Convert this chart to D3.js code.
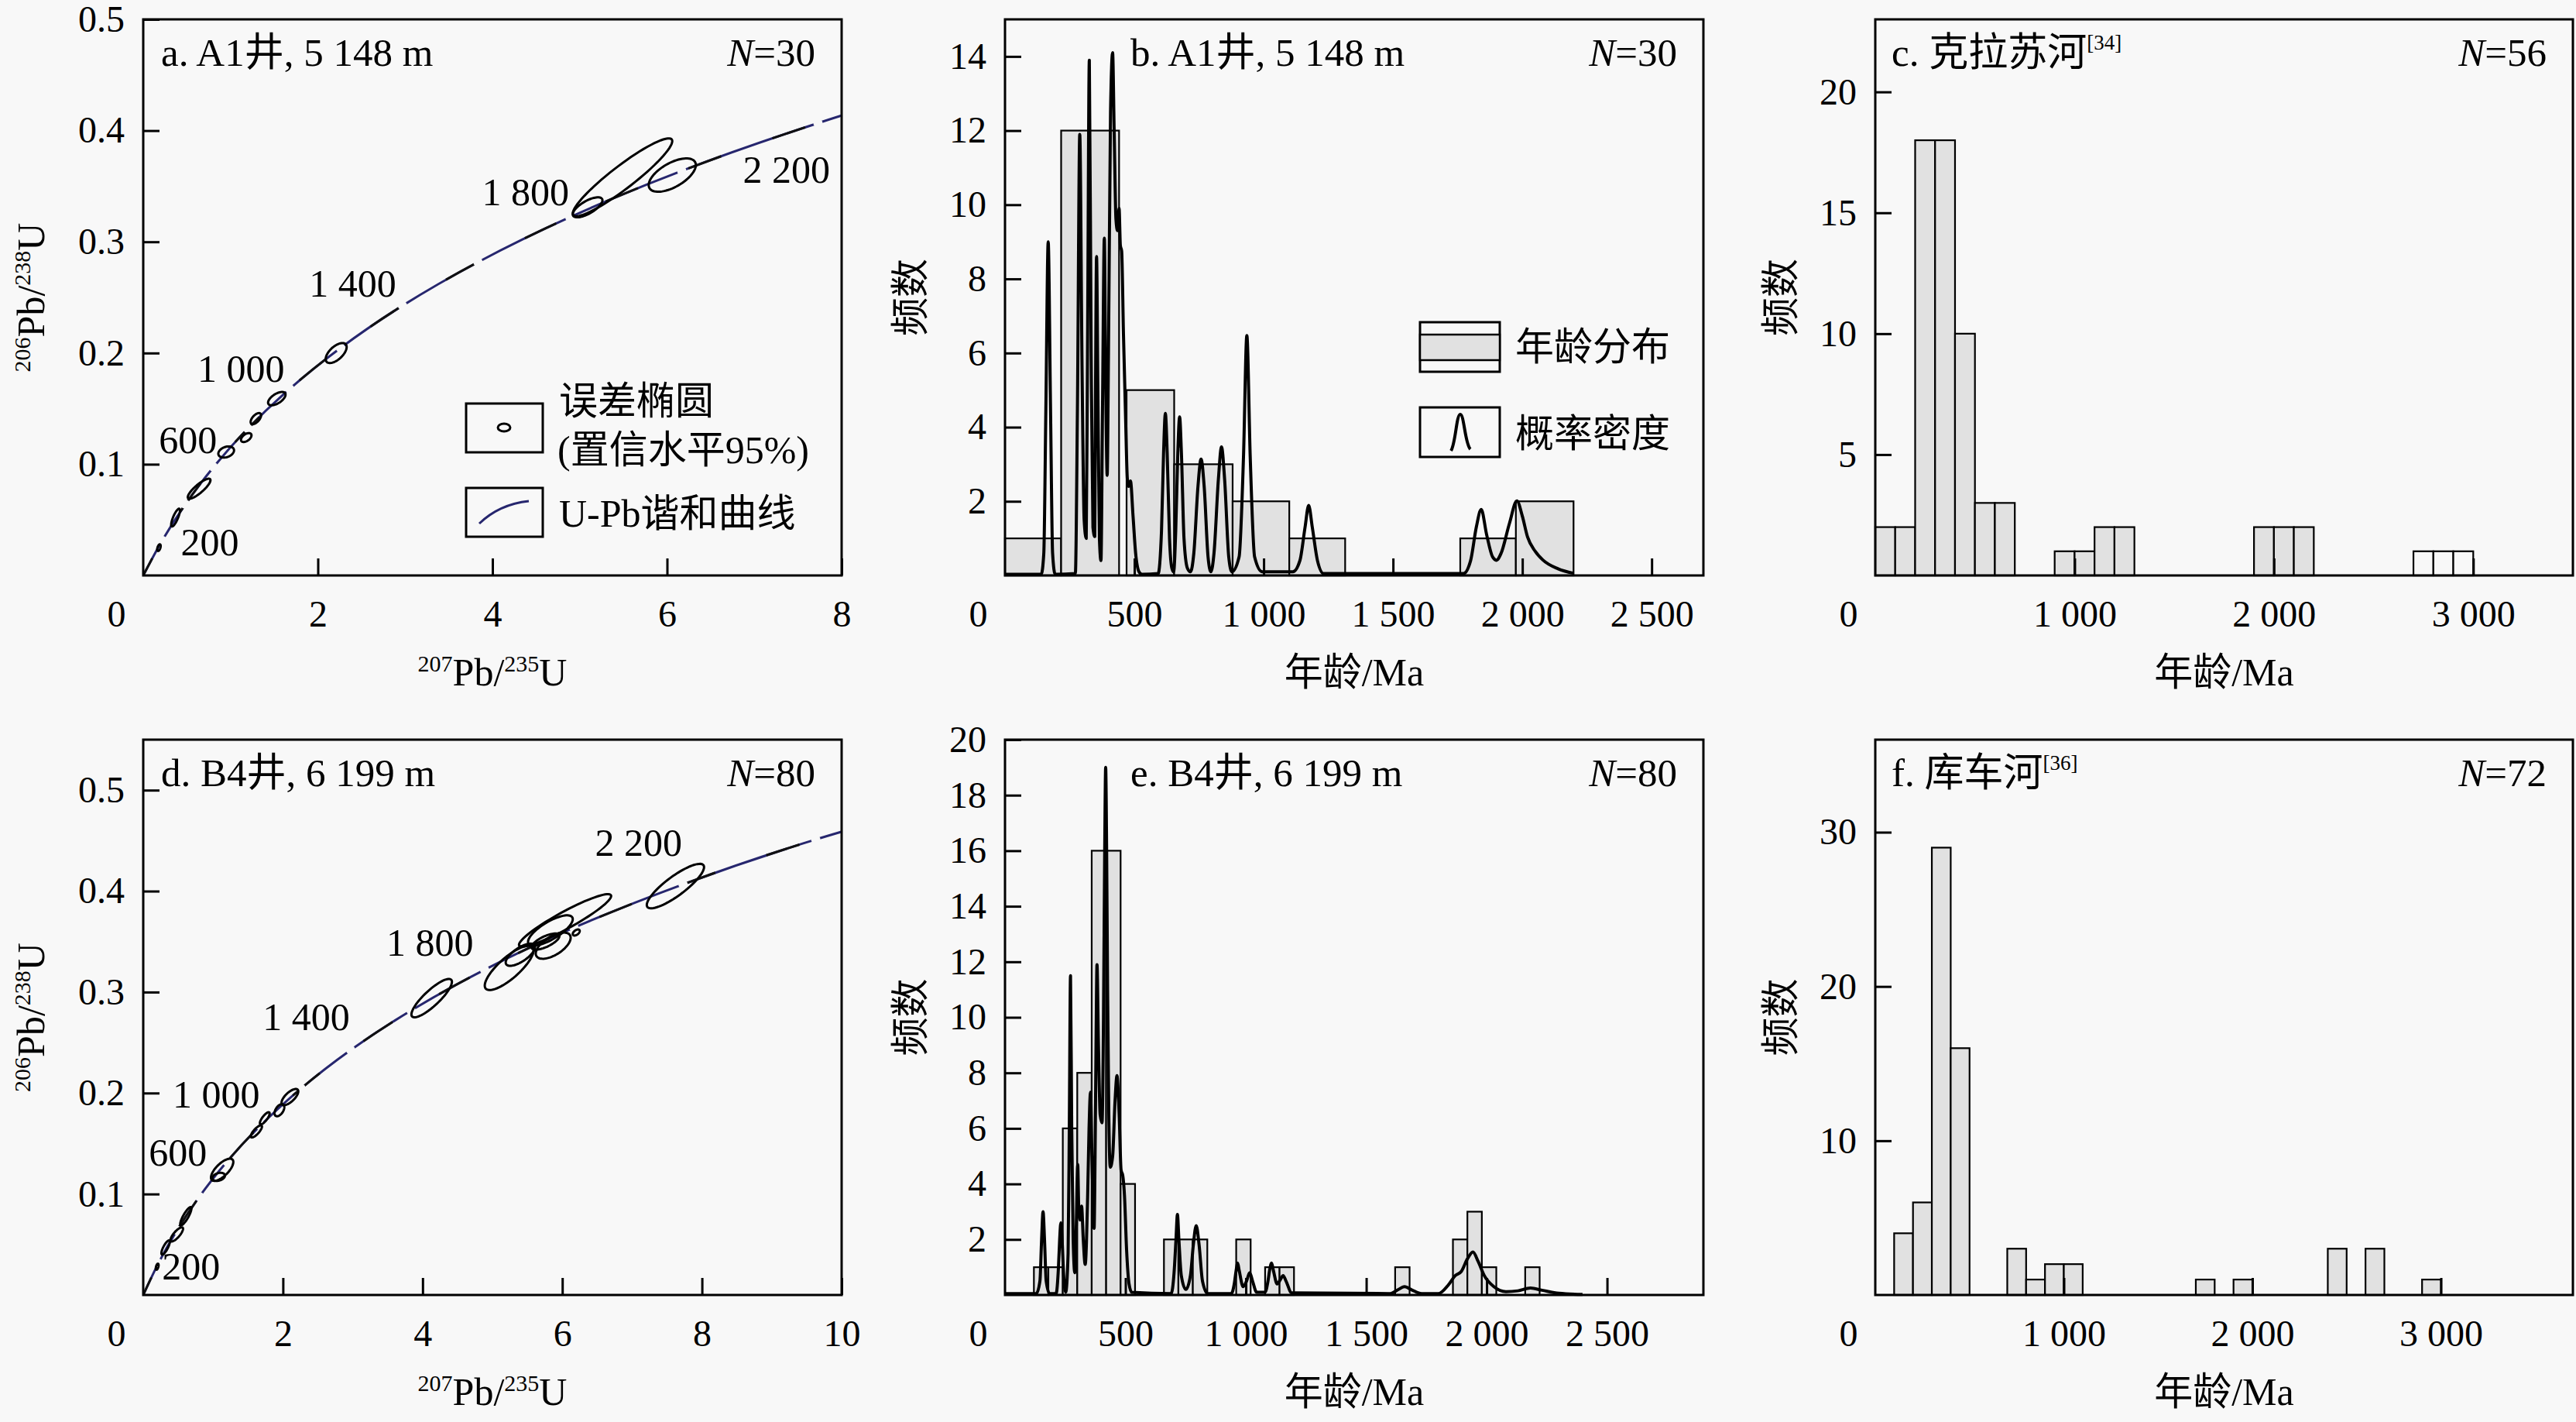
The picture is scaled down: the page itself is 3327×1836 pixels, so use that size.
<!DOCTYPE html>
<meta charset="utf-8">
<style>
  body { margin: 0; background: #f8f8f8; }
  svg { display: block; font-family: "Liberation Serif", "Times New Roman", "Noto Sans CJK SC", serif; }
  .frame { fill: none; stroke: #000; stroke-width: 3; }
  .bar { stroke: #000; stroke-width: 2.2; }
  .pdp { fill: none; stroke: #000; stroke-width: 4; stroke-linejoin: round; }
  .ell { fill: none; stroke: #000; stroke-width: 3; }
  .conc { fill: none; stroke: #26266e; stroke-width: 3; }
</style>
<svg width="3327" height="1836"></svg>
<script src="https://d3js.org/d3.v7.min.js"></script>
<script>

// concordia nodes every 200 Ma
var concAge = [0, 200, 400, 600, 800, 1000, 1200, 1400, 1600, 1800, 2000, 2200, 2400, 2600];
var conc207 = [0, 0.2177, 0.4828, 0.8056, 1.1987, 1.6774, 2.2603, 2.9701, 3.8344, 4.8869, 6.1685, 7.7291, 9.6296, 11.9437];
var conc206 = [0, 0.0315, 0.0640, 0.0975, 0.1321, 0.1678, 0.2046, 0.2426, 0.2817, 0.3221, 0.3638, 0.4067, 0.4511, 0.4968];

// error ellipses: [207/235, 206/238, sx, sy, rho]
var ellA = [
  [5.49, 0.358, 0.57, 0.035, 0.93], [6.06, 0.360, 0.27, 0.015, 0.6], [5.09, 0.331, 0.17, 0.009, 0.7],
  [2.21, 0.200, 0.12, 0.009, 0.6], [1.53, 0.159, 0.10, 0.006, 0.6], [1.29, 0.141, 0.06, 0.005, 0.6],
  [1.18, 0.124, 0.06, 0.004, 0.5], [0.95, 0.111, 0.09, 0.005, 0.3], [0.64, 0.078, 0.13, 0.009, 0.85],
  [0.37, 0.052, 0.05, 0.008, 0.8], [0.18, 0.025, 0.02, 0.003, 0.5]
];
var ellD = [
  [7.62, 0.405, 0.41, 0.022, 0.85], [6.04, 0.371, 0.66, 0.026, 0.93], [5.24, 0.324, 0.35, 0.022, 0.8],
  [5.40, 0.337, 0.21, 0.011, 0.7], [5.83, 0.361, 0.32, 0.015, 0.75], [5.87, 0.346, 0.25, 0.013, 0.6],
  [5.76, 0.350, 0.20, 0.008, 0.7], [6.20, 0.359, 0.05, 0.003, 0.5], [4.13, 0.294, 0.29, 0.019, 0.85],
  [2.10, 0.196, 0.12, 0.008, 0.7], [1.95, 0.183, 0.07, 0.006, 0.5], [1.74, 0.175, 0.07, 0.006, 0.8],
  [1.62, 0.162, 0.08, 0.006, 0.8], [1.13, 0.124, 0.16, 0.011, 0.7], [1.08, 0.117, 0.09, 0.004, 0.3],
  [0.61, 0.078, 0.08, 0.009, 0.85], [0.48, 0.060, 0.09, 0.007, 0.8], [0.32, 0.047, 0.06, 0.007, 0.8],
  [0.20, 0.028, 0.02, 0.003, 0.5]
];

// concordia age labels: [text, x, y]
var labA = [['200', 0.43, 0.018], ['600', 0.18, 0.11], ['1 000', 0.62, 0.174], ['1 400', 1.9, 0.251], ['1 800', 3.88, 0.333], ['2 200', 6.87, 0.353]];
var labD = [['200', 0.27, 0.0155], ['600', 0.08, 0.128], ['1 000', 0.42, 0.186], ['1 400', 1.71, 0.262], ['1 800', 3.48, 0.336], ['2 200', 6.47, 0.435]];

// histograms
var bLo = [0, 217, 470, 654, 880, 1099, 1760, 1975];
var bHi = [217, 441, 654, 880, 1099, 1315, 1975, 2198];
var bCount = [1, 12, 5, 3, 2, 1, 1, 2];

var eLo = [120, 180, 240, 300, 360, 420, 480, 660, 720, 780, 960, 1080, 1140, 1620, 1860, 1920, 1980, 2160];
var eCount = [1, 1, 6, 8, 16, 16, 4, 2, 2, 2, 2, 1, 1, 1, 2, 3, 1, 1];

var cLo = [0, 100, 200, 300, 400, 500, 600, 900, 1000, 1100, 1200, 1900, 2000, 2100, 2700, 2800, 2900];
var cCount = [2, 2, 18, 18, 10, 3, 3, 1, 1, 2, 2, 2, 2, 2, 1, 1, 1];

var fLo = [100, 200, 300, 400, 700, 800, 900, 1000, 1700, 1900, 2400, 2600, 2900];
var fCount = [4, 6, 29, 16, 3, 1, 2, 2, 1, 1, 3, 3, 1];

// probability density curves [age, value]
var pdpB = [
  [0, 0.03], [140, 0.03], [150, 0.6], [158, 4.5], [167, 9.0], [176, 4.5], [184, 0.6], [194, 0.03],
  [272, 0.05], [280, 4.5], [289, 11.9], [298, 5.5], [306, 1.5], [314, 1.0],
  [319, 6], [326, 13.9], [333, 6], [340, 1.3], [347, 1.05],
  [350, 5], [354, 8.6], [359, 5], [365, 1], [371, 0.4],
  [377, 4.5], [384, 9.1], [389, 5.5], [395, 2.7],
  [400, 6], [408, 12.5], [416, 14.1], [422, 12], [429, 9.6], [435, 9.3], [441, 9.9], [446, 8.9], [451, 8.75],
  [458, 6.5], [466, 4.3], [473, 2.6], [478, 2.4], [485, 2.55], [495, 1.6], [505, 0.6], [518, 0.1], [530, 0.03],
  [592, 0.05], [605, 1.2], [613, 3.3], [620, 4.37], [627, 3.3], [636, 1.0], [645, 0.2], [652, 0.1],
  [660, 1.2], [668, 3.3], [675, 4.28], [682, 3.3], [692, 1.0], [705, 0.2], [717, 0.1],
  [730, 0.6], [746, 2.4], [758, 3.14], [770, 2.4], [785, 0.5], [796, 0.1],
  [808, 0.6], [825, 2.6], [837, 3.47], [849, 2.6], [865, 0.5], [877, 0.1],
  [905, 0.5], [922, 3.2], [935, 6.47], [948, 3.2], [965, 0.5], [994, 0.1],
  [1113, 0.1], [1140, 0.4], [1160, 1.3], [1174, 1.89], [1188, 1.3], [1208, 0.4], [1232, 0.05],
  [1772, 0.05], [1800, 0.4], [1822, 1.3], [1841, 1.78], [1862, 1.1], [1885, 0.5], [1900, 0.41], [1918, 0.6],
  [1950, 1.4], [1979, 2.01], [2000, 1.6], [2020, 1.04], [2050, 0.65], [2079, 0.42], [2138, 0.18], [2197, 0.06]
];
var pdpE = [
  [0, 0.05], [130, 0.05], [145, 0.5], [152, 2], [158, 3.0], [164, 2], [171, 0.5], [185, 0.05],
  [212, 0.05], [222, 1], [227, 2], [232, 2.6], [237, 2], [243, 0.8], [252, 0.1],
  [262, 1.5], [267, 6], [272, 11.5], [277, 6], [283, 2], [290, 0.8],
  [296, 2.5], [302, 4.7], [306, 3.2], [312, 2.7], [318, 3.2], [325, 2], [333, 1.1],
  [343, 3.5], [349, 6], [355, 7.3], [361, 5], [370, 2.4],
  [374, 5], [378, 9], [382, 11.9], [388, 9], [395, 6.5], [403, 6.2],
  [409, 10], [414, 16], [418, 19.0], [422, 16], [426, 11], [431, 6.5], [437, 4.6],
  [447, 5], [457, 7], [465, 7.9], [474, 6.5], [482, 4.5], [489, 4.3], [496, 3.6], [505, 1.6], [515, 0.4], [526, 0.1],
  [690, 0.05], [702, 0.8], [710, 2], [716, 2.9], [722, 2], [732, 0.7], [751, 0.2],
  [770, 0.7], [782, 1.8], [794, 2.5], [806, 1.8], [820, 0.5], [842, 0.05],
  [940, 0.05], [952, 0.4], [960, 0.9], [966, 1.15], [972, 0.9], [989, 0.3], [1003, 0.5], [1016, 0.8], [1028, 0.5], [1045, 0.1],
  [1080, 0.1], [1092, 0.5], [1100, 0.95], [1107, 1.15], [1114, 0.9], [1130, 0.4], [1143, 0.55], [1155, 0.7], [1167, 0.5], [1190, 0.08],
  [1600, 0.05], [1630, 0.18], [1659, 0.3], [1690, 0.18], [1730, 0.05], [1800, 0.05], [1840, 0.35], [1870, 0.7], [1895, 0.85],
  [1920, 1.3], [1943, 1.55], [1965, 1.2], [1990, 0.7], [2030, 0.3], [2080, 0.12], [2130, 0.15], [2182, 0.25], [2230, 0.17],
  [2300, 0.06], [2398, 0.02]
];

// ticks
var ratioXTicksA = [0, 2, 4, 6, 8];
var ratioXTicksD = [0, 2, 4, 6, 8, 10];
var ratioYTicks = [0.1, 0.2, 0.3, 0.4, 0.5];
var ageTicksBE = [0, 500, 1000, 1500, 2000, 2500];
var ageTicksCF = [0, 1000, 2000, 3000];
var freqTicksB = [2, 4, 6, 8, 10, 12, 14];
var freqTicksE = [2, 4, 6, 8, 10, 12, 14, 16, 18, 20];
var freqTicksC = [5, 10, 15, 20];
var freqTicksF = [10, 20, 30];

var BG = '#f8f8f8', GREY = '#e1e1e1';
var svg = d3.select('svg');
svg.append('rect').attr('width', 3327).attr('height', 1836).attr('fill', BG);

var cols = [[185, 1087], [1298, 2200], [2422, 3323]];
var rows = [[25, 743], [955, 1672]];
var clipId = 0;

function num(v) {
  return v >= 1000 ? d3.format(',')(v).replace(/,/g, ' ') : String(v);
}

function panel(col, row, xDom, yDom) {
  var p = {
    left: cols[col][0], right: cols[col][1], top: rows[row][0], bottom: rows[row][1]
  };
  p.x = d3.scaleLinear().domain(xDom).range([p.left, p.right]);
  p.y = d3.scaleLinear().domain(yDom).range([p.bottom, p.top]);
  p.g = svg.append('g');
  return p;
}

function axes(p, xt, yt, xf, yf) {
  p.g.append('rect').attr('class', 'frame')
    .attr('x', p.left).attr('y', p.top)
    .attr('width', p.right - p.left).attr('height', p.bottom - p.top);

  var ax = p.g.append('g').attr('transform', 'translate(0,' + p.bottom + ')')
    .call(d3.axisBottom(p.x).tickValues(xt).tickFormat(xf).tickSize(-22).tickSizeOuter(0).tickPadding(32));
  var ay = p.g.append('g').attr('transform', 'translate(' + p.left + ',0)')
    .call(d3.axisLeft(p.y).tickValues(yt).tickFormat(yf).tickSize(-21).tickSizeOuter(0).tickPadding(24));
  [ax, ay].forEach(function(a) {
    a.attr('font-family', null).attr('font-size', 48);
    a.select('.domain').remove();
    a.selectAll('line').attr('stroke-width', 3);
    a.selectAll('text').attr('fill', '#000');
  });
  // the origin label sits left of the corner
  var zero = ax.selectAll('.tick').filter(function(d) { return d === 0; });
  zero.select('text').attr('x', -35);
  zero.select('line').remove();
}

function title(p, dx, label, sup, n) {
  var t = p.g.append('text').attr('x', p.left + dx).attr('y', p.top + 60)
    .attr('font-size', 51).text(label);
  if (sup) t.append('tspan').attr('font-size', 27).attr('dy', -21).text(sup);
  var nt = p.g.append('text').attr('x', p.right - 34).attr('y', p.top + 60)
    .attr('font-size', 51).attr('text-anchor', 'end');
  nt.append('tspan').attr('font-style', 'italic').text('N');
  nt.append('tspan').text('=' + n);
}

function ratioTitle(g, x, y, a, b, c, rotate) {
  var t = g.append('text').attr('font-size', 50).attr('text-anchor', 'middle')
    .attr('transform', 'translate(' + x + ',' + y + ')' + (rotate ? ' rotate(-90)' : ''));
  t.append('tspan').attr('font-size', 30).attr('dy', -18).text(a);
  t.append('tspan').attr('dy', 18).text('Pb/');
  t.append('tspan').attr('font-size', 30).attr('dy', -18).text(b);
  t.append('tspan').attr('dy', 18).text(c);
}

function ageTitles(p) {
  p.g.append('text').attr('x', (p.left + p.right) / 2).attr('y', p.bottom + 142)
    .attr('font-size', 50).attr('text-anchor', 'middle').text('年龄/Ma');
  p.g.append('text').attr('font-size', 50).attr('text-anchor', 'middle')
    .attr('dominant-baseline', 'central')
    .attr('transform', 'translate(' + (p.left - 122) + ',' + ((p.top + p.bottom) / 2) + ') rotate(-90)')
    .text('频数');
}

function concordiaPanel(p, ells, labs) {
  var id = 'clip' + (clipId++);
  svg.append('clipPath').attr('id', id).append('rect')
    .attr('x', p.left).attr('y', p.top).attr('width', p.right - p.left).attr('height', p.bottom - p.top);
  var nodes = concAge.map(function(a, i) { return [conc207[i], conc206[i]]; });
  var line = d3.line().x(function(d) { return p.x(d[0]); }).y(function(d) { return p.y(d[1]); });
  var cg = p.g.append('g').attr('clip-path', 'url(#' + id + ')');
  var curve = cg.append('path').attr('class', 'conc')
    .attr('d', line.curve(d3.curveNatural)(nodes));
  // darker overlay on part of each 200 Ma segment, as in the source plot
  var len = curve.node().getTotalLength();
  cg.append('path').attr('d', curve.attr('d'))
    .attr('fill', 'none').attr('stroke', '#111').attr('stroke-width', 3)
    .attr('stroke-dasharray', '45,70').attr('stroke-dashoffset', 20);
  line.curve(d3.curveLinear);
  cg.selectAll('circle').data(nodes.slice(1)).enter().append('circle')
    .attr('cx', function(d) { return p.x(d[0]); }).attr('cy', function(d) { return p.y(d[1]); })
    .attr('r', 6).attr('fill', BG);

  cg.selectAll('path.ell').data(ells).enter().append('path').attr('class', 'ell')
    .attr('d', function(e) {
      var k = Math.sqrt(1 - e[4] * e[4]);
      var pts = d3.range(0, 360, 5).map(function(deg) {
        var t = deg * Math.PI / 180;
        return [e[0] + e[2] * Math.cos(t), e[1] + e[3] * (e[4] * Math.cos(t) + k * Math.sin(t))];
      });
      return line(pts) + 'Z';
    });

  p.g.selectAll('text.age').data(labs).enter().append('text').attr('class', 'age')
    .attr('x', function(d) { return p.x(d[1]); }).attr('y', function(d) { return p.y(d[2]); })
    .attr('font-size', 50).text(function(d) { return d[0]; });
}

function histPanel(p, lo, hi, count, pdp, fillFn) {
  var data = lo.map(function(l, i) { return { lo: l, hi: hi[i], n: count[i] }; });
  p.g.selectAll('rect.bar').data(data).enter().append('rect').attr('class', 'bar')
    .attr('x', function(d) { return p.x(d.lo); })
    .attr('width', function(d) { return p.x(d.hi) - p.x(d.lo); })
    .attr('y', function(d) { return p.y(d.n); })
    .attr('height', function(d) { return p.y(0) - p.y(d.n); })
    .attr('fill', fillFn || GREY);
  if (pdp) {
    p.g.append('path').attr('class', 'pdp')
      .attr('d', d3.line().x(function(d) { return p.x(d[0]); }).y(function(d) { return p.y(d[1]); })
        .curve(d3.curveMonotoneX)(pdp));
  }
}

function widths(lo, w) { return lo.map(function(l) { return l + w; }); }

// ---- a ----
var pa = panel(0, 0, [0, 8], [0, 0.5]);
concordiaPanel(pa, ellA, labA);
axes(pa, ratioXTicksA, ratioYTicks, d3.format('d'), d3.format('.1f'));
title(pa, 23, 'a. A1井, 5 148 m', null, 30);
ratioTitle(pa.g, (pa.left + pa.right) / 2, pa.bottom + 142, '207', '235', 'U', false);
ratioTitle(pa.g, pa.left - 128, (pa.top + pa.bottom) / 2, '206', '238', 'U', true);
// legend a
var la = pa.g.append('g').attr('transform', 'translate(' + pa.left + ',' + pa.top + ')');
la.append('rect').attr('class', 'frame').attr('x', 417).attr('y', 496).attr('width', 99).attr('height', 63).attr('fill', BG);
la.append('ellipse').attr('class', 'ell').attr('cx', 466).attr('cy', 527).attr('rx', 8).attr('ry', 5);
la.append('rect').attr('class', 'frame').attr('x', 417).attr('y', 605).attr('width', 99).attr('height', 63).attr('fill', BG);
la.append('path').attr('class', 'conc').attr('d', 'M434,651 Q460,626 498,622');
la.append('text').attr('x', 537).attr('y', 510).attr('font-size', 50).text('误差椭圆');
la.append('text').attr('x', 535).attr('y', 573).attr('font-size', 50).text('(置信水平95%)');
la.append('text').attr('x', 537).attr('y', 655).attr('font-size', 50).text('U-Pb谐和曲线');

// ---- b ----
var pb = panel(1, 0, [0, 2700], [0, 15]);
histPanel(pb, bLo, bHi, bCount, pdpB);
axes(pb, ageTicksBE, freqTicksB, num, d3.format('d'));
title(pb, 162, 'b. A1井, 5 148 m', null, 30);
ageTitles(pb);
var lb = pb.g.append('g').attr('transform', 'translate(' + pb.left + ',' + pb.top + ')');
lb.append('rect').attr('class', 'frame').attr('x', 536).attr('y', 391).attr('width', 103).attr('height', 64).attr('fill', BG);
lb.append('rect').attr('x', 536).attr('y', 407).attr('width', 103).attr('height', 33)
  .attr('fill', GREY).attr('stroke', '#000').attr('stroke-width', 2.5);
lb.append('rect').attr('class', 'frame').attr('x', 536).attr('y', 501).attr('width', 103).attr('height', 64).attr('fill', BG);
lb.append('path').attr('class', 'pdp').attr('stroke-width', 3)
  .attr('d', 'M576,557 C582,548 583,510 588,510 C593,510 594,548 601,555');
lb.append('text').attr('x', 659).attr('y', 440).attr('font-size', 50).text('年龄分布');
lb.append('text').attr('x', 659).attr('y', 552).attr('font-size', 50).text('概率密度');

// ---- c ----
var pc = panel(2, 0, [0, 3500], [0, 23]);
histPanel(pc, cLo, widths(cLo, 100), cCount, null, function(d) { return d.lo >= 2700 ? BG : GREY; });
axes(pc, ageTicksCF, freqTicksC, num, d3.format('d'));
title(pc, 21, 'c. 克拉苏河', '[34]', 56);
ageTitles(pc);

// ---- d ----
var pd = panel(0, 1, [0, 10], [0, 0.55]);
concordiaPanel(pd, ellD, labD);
axes(pd, ratioXTicksD, ratioYTicks, d3.format('d'), d3.format('.1f'));
title(pd, 23, 'd. B4井, 6 199 m', null, 80);
ratioTitle(pd.g, (pd.left + pd.right) / 2, pd.bottom + 142, '207', '235', 'U', false);
ratioTitle(pd.g, pd.left - 128, (pd.top + pd.bottom) / 2, '206', '238', 'U', true);

// ---- e ----
var pe = panel(1, 1, [0, 2900], [0, 20]);
histPanel(pe, eLo, widths(eLo, 60), eCount, pdpE);
axes(pe, ageTicksBE, freqTicksE, num, d3.format('d'));
title(pe, 162, 'e. B4井, 6 199 m', null, 80);
ageTitles(pe);

// ---- f ----
var pf = panel(2, 1, [0, 3700], [0, 36]);
histPanel(pf, fLo, widths(fLo, 100), fCount, null);
axes(pf, ageTicksCF, freqTicksF, num, d3.format('d'));
title(pf, 21, 'f. 库车河', '[36]', 72);
ageTitles(pf);

</script>
